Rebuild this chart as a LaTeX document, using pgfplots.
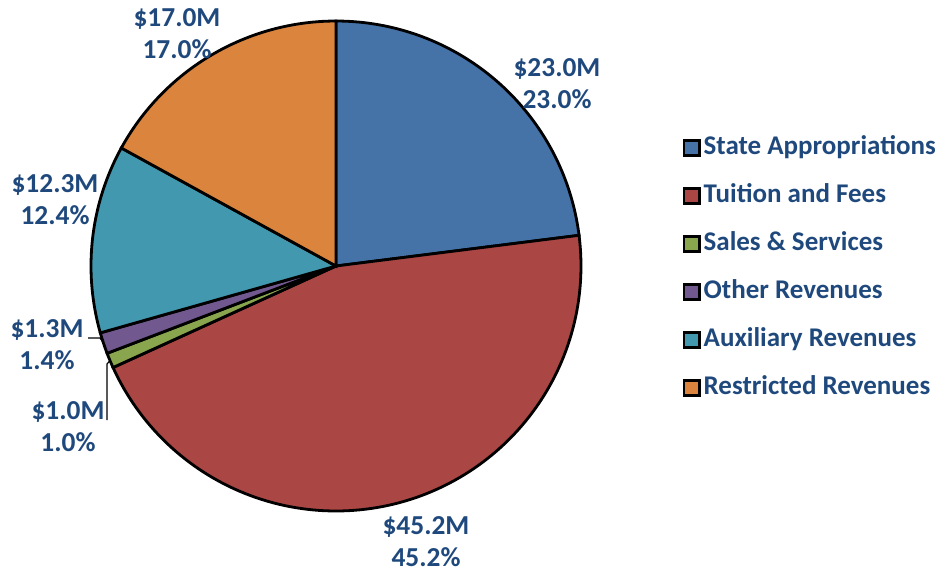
\documentclass[border=0pt]{standalone}
\usepackage{pgfplots}
\pgfplotsset{compat=1.18}
\usepgfplotslibrary{polar}
\usepackage{fontspec}
\setmainfont{Carlito}
\definecolor{cA}{RGB}{69,114,167}
\definecolor{cB}{RGB}{170,70,67}
\definecolor{cC}{RGB}{137,165,78}
\definecolor{cD}{RGB}{113,88,143}
\definecolor{cE}{RGB}{65,152,175}
\definecolor{cF}{RGB}{219,132,61}
\definecolor{lbl}{RGB}{31,73,125}
\begin{document}
\begin{tikzpicture}
% shares in percent (clockwise from 12 o'clock)
\def\vA{23.0}\def\vB{45.2}\def\vC{1.0}\def\vD{1.4}\def\vE{12.4}\def\vF{17.0}
\pgfmathsetmacro\aA{90}
\pgfmathsetmacro\aB{\aA-3.6*\vA}
\pgfmathsetmacro\aC{\aB-3.6*\vB}
\pgfmathsetmacro\aD{\aC-3.6*\vC}
\pgfmathsetmacro\aE{\aD-3.6*\vD}
\pgfmathsetmacro\aF{\aE-3.6*\vE}
\pgfmathsetmacro\aG{\aF-3.6*\vF}
\begin{polaraxis}[
  hide axis, scale only axis, width=245pt, height=245pt,
  ymin=0, ymax=1, clip=false,
  at={(168pt,154.5pt)}, anchor=center,
  legend cell align=left,
  legend image code/.code={\draw[#1,draw=black,line width=1.3pt] (0pt,-3.8pt) rectangle (7.6pt,3.8pt);},
  legend style={draw=none, fill=none, inner sep=0pt, row sep=8pt,
    font=\fontsize{13.5}{16}\selectfont\bfseries\color{lbl},
    nodes={inner sep=1.5pt, text height=10pt, text depth=3pt},
    at={(1.207,0.496)}, anchor=west},
]
\addplot[fill=cA, draw=black, line width=1.4pt, domain=\aA:\aB, samples=80] {1} -- (axis cs:0,0) -- cycle;
\addlegendentry{State Appropriations}
\addplot[fill=cB, draw=black, line width=1.4pt, domain=\aB:\aC, samples=120] {1} -- (axis cs:0,0) -- cycle;
\addlegendentry{Tuition and Fees}
\addplot[fill=cC, draw=black, line width=1.4pt, domain=\aC:\aD, samples=5] {1} -- (axis cs:0,0) -- cycle;
\addlegendentry{Sales \& Services}
\addplot[fill=cD, draw=black, line width=1.4pt, domain=\aD:\aE, samples=5] {1} -- (axis cs:0,0) -- cycle;
\addlegendentry{Other Revenues}
\addplot[fill=cE, draw=black, line width=1.4pt, domain=\aE:\aF, samples=50] {1} -- (axis cs:0,0) -- cycle;
\addlegendentry{Auxiliary Revenues}
\addplot[fill=cF, draw=black, line width=1.4pt, domain=\aF:\aG, samples=60] {1} -- (axis cs:0,0) -- cycle;
\addlegendentry{Restricted Revenues}
\end{polaraxis}
\draw[black, line width=0.6pt] (44pt,118.5pt) -- (50pt,118.5pt) -- (51.75pt,116pt);
\draw[black, line width=0.6pt] (53.5pt,77.5pt) -- (53.5pt,105.5pt) -- (55pt,107.25pt);
\tikzset{dl/.style={align=center, inner sep=0pt, text=lbl, font=\fontsize{13.7}{16}\selectfont\bfseries}}
\node[dl] at (278.5pt,245.5pt) {\$23.0M\\23.0\%};
\node[dl] at (213pt,16.5pt) {\$45.2M\\45.2\%};
\node[dl] at (88.5pt,270.5pt) {\$17.0M\\17.0\%};
\node[dl] at (27.5pt,187.5pt) {\$12.3M\\12.4\%};
\node[dl] at (23.5pt,115pt) {\$1.3M\\1.4\%};
\node[dl] at (34pt,74pt) {\$1.0M\\1.0\%};
\pgfresetboundingbox
\path (0,0) rectangle (470pt,287.5pt);
\end{tikzpicture}
\end{document}
